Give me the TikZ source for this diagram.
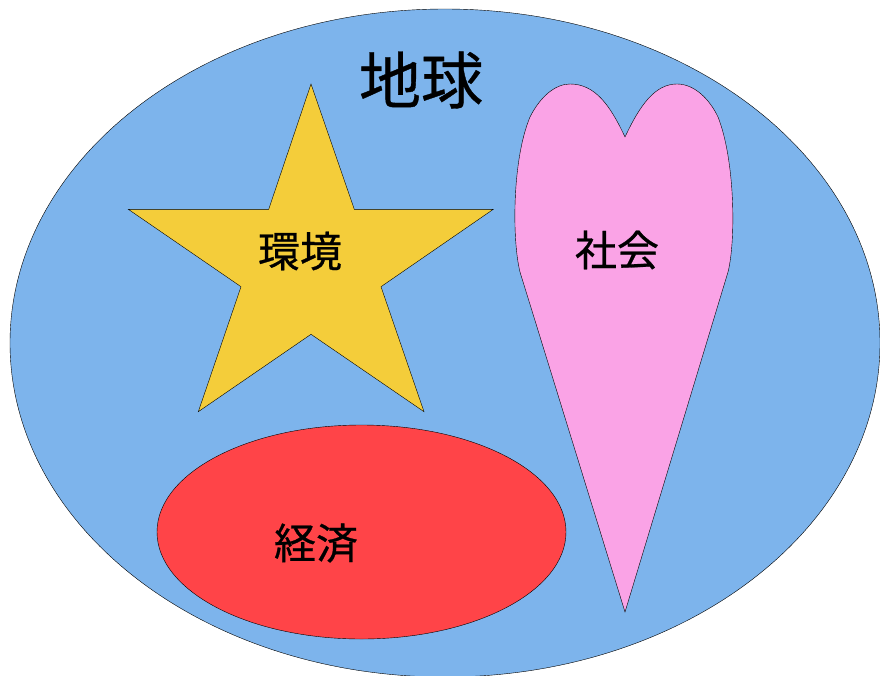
\documentclass[tikz,border=0pt]{standalone}
\usepackage{fontspec}
\usepackage{xcolor}
\newfontfamily\jpfont[FakeBold=0.6]{Noto Sans CJK JP}
\definecolor{earthblue}{RGB}{125,180,236}
\definecolor{staryellow}{RGB}{244,205,58}
\definecolor{heartpink}{RGB}{250,163,230}
\definecolor{econred}{RGB}{255,68,72}

\begin{document}
\begin{tikzpicture}[x=1pt,y=-1pt]
\tikzset{bigtext/.style={font=\jpfont\fontsize{62}{62}\selectfont},
  midtext/.style={font=\jpfont\fontsize{42}{42}\selectfont}}
\useasboundingbox (0,0) rectangle (880,675);
\begin{scope}

    \clip (0,0) rectangle (880,675);
    \draw[black,fill=earthblue] (445,343) ellipse (435 and 334);

    % star
    \draw[black,fill=staryellow] (311,84) -- (354.3,209.3) -- (493.3,209.3)
      -- (381,286.7) -- (424,411.7) -- (311,334.3) -- (198.3,411.7)
      -- (241,286.7) -- (128.3,209.3) -- (268.7,209.3) -- cycle;

    % heart
    \draw[black,fill=heartpink] (625,612) -- (520,272)
      .. controls (512,240) and (512,160) .. (530,117)
      .. controls (540,97) and (555,84) .. (570,84)
      .. controls (595,84) and (610,105) .. (625,137)
      .. controls (640,105) and (655,84) .. (677,84)
      .. controls (695,84) and (710,100) .. (718,117)
      .. controls (735,160) and (736,240) .. (728,272)
      -- cycle;

    \draw[black,fill=econred] (361.5,532) ellipse (204.5 and 107);

    \node[bigtext] (earth) at (421,80) {地球};
    \node[midtext] (env) at (300,251) {環境};
    \node[midtext] (soc) at (617,250) {社会};
    \node[midtext] (econ) at (316,543) {経済};

\end{scope}
\end{tikzpicture}
\end{document}
